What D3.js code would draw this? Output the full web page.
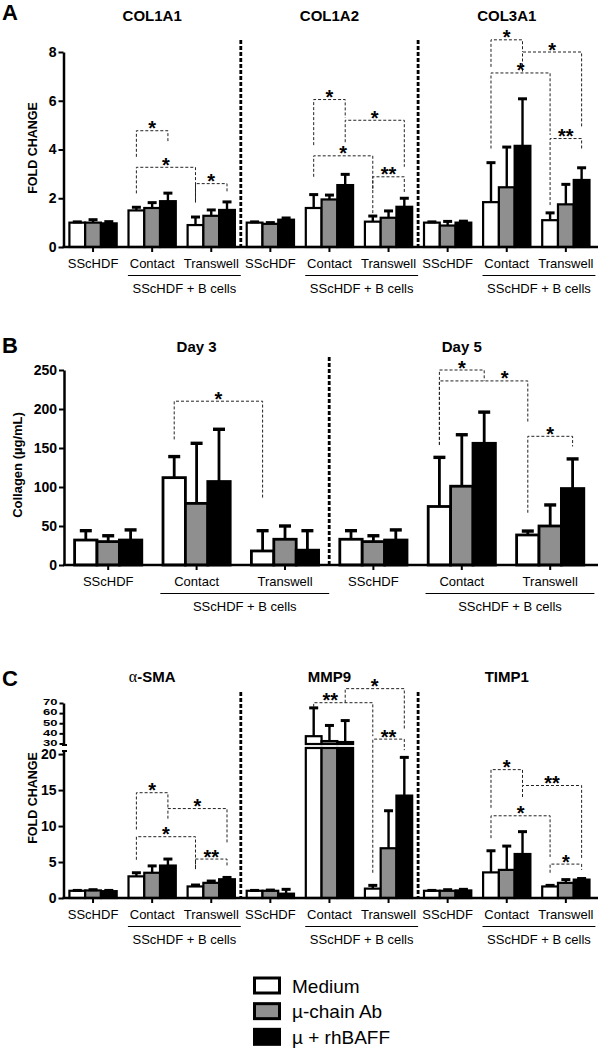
<!DOCTYPE html>
<html><head><meta charset="utf-8">
<script src="https://cdn.jsdelivr.net/npm/d3@7"></script>
<style>
body{margin:0;background:#fff}
svg{display:block}
text{font-family:"Liberation Sans",Arial,Helvetica,sans-serif;fill:#000}
</style>
</head><body>
<svg id="chart" width="600" height="1051"></svg>
<script>
// ================= DATA =================
const seriesNames = ["Medium", "µ-chain Ab", "µ + rhBAFF"];
const categories = ["SScHDF", "Contact", "Transwell"];
const subLabel = "SScHDF + B cells";

// Panel A : fold change (9 groups = 3 genes x 3 conditions)
const geneA = ["COL1A1", "COL1A2", "COL3A1"];
const aMedium    = [1.00, 1.50, 0.90,  1.00, 1.60, 1.04,  1.00, 1.84, 1.10];
const aMediumErr = [0.03, 0.13, 0.33,  0.03, 0.55, 0.23,  0.03, 1.62, 0.30];
const aMu        = [1.00, 1.60, 1.28,  0.95, 1.95, 1.20,  0.88, 2.45, 1.75];
const aMuErr     = [0.12, 0.22, 0.24,  0.05, 0.18, 0.28,  0.17, 1.65, 0.82];
const aBaff      = [0.97, 1.88, 1.52,  1.12, 2.54, 1.65,  1.00, 4.15, 2.75];
const aBaffErr   = [0.07, 0.33, 0.33,  0.07, 0.44, 0.35,  0.06, 1.93, 0.50];
const aTicks = [0, 2, 4, 6, 8];
// brackets: [groupA, seriesA, groupB, seriesB, top, leftLegEnd, rightLegEnd, label, starShift]
const aBrackets = [
  [1,0,1,2, 4.77, 3.70, 4.26, "*", 0],
  [1,0,2,0, 3.27, 2.20, 1.83, "*", 0],
  [2,0,2,2, 2.60, 1.83, 2.27, "*", 0],
  [4,0,4,2, 6.05, 4.18, 5.30, "*", 0],
  [4,2,5,2, 5.20, 4.30, 3.29, "*", 0],
  [4,0,5,0, 3.74, 2.88, 2.30, "*", 0],
  [5,0,5,2, 2.88, 1.39, 2.20, "**", 0],
  [7,0,7,2, 8.50, 7.39, 8.00, "*", 0],
  [7,2,8,2, 8.00, 7.20, 4.93, "*", 0],
  [7,0,8,0, 7.14, 4.04, 4.60, "*", 0],
  [8,0,8,2, 4.45, 1.72, 4.04, "**", 0]
];

// Panel B : collagen (6 groups = 2 days x 3 conditions)
const dayB = ["Day 3", "Day 5"];
const bMedium    = [32, 112, 18,   33, 75, 38.5];
const bMediumErr = [12, 27, 26,    11, 63, 5];
const bMu        = [30, 79, 33,    30, 101, 50];
const bMuErr     = [7.5, 77, 17,   7.5, 66, 27];
const bBaff      = [32, 107, 19,   32, 156, 98];
const bBaffErr   = [13, 67, 25,    13, 40, 38];
const bTicks = [0, 50, 100, 150, 200, 250];
const bBrackets = [
  [1,0,2,0, 210, 161, 85, "*", 0],
  [4,0,4,2, 250, 154, 236, "*", 0],
  [4,0,5,0, 236, 154, 182, "*", 21],
  [5,0,5,2, 165, 67, 152, "*", 0]
];

// Panel C : fold change with broken axis
const geneC = ["α-SMA", "MMP9", "TIMP1"];
const cMedium    = [1.00, 3.00, 1.60,  1.00, 36, 1.30,  1.00, 3.55, 1.60];
const cMediumErr = [0.05, 0.50, 0.20,  0.05, 29, 0.45,  0.05, 3.00, 0.15];
const cMu        = [1.05, 3.50, 2.10,  1.00, 31, 6.90,  1.00, 3.90, 2.10];
const cMuErr     = [0.10, 0.95, 0.25,  0.10, 16, 5.20,  0.15, 3.30, 0.45];
const cBaff      = [0.95, 4.50, 2.60,  0.60, 30, 14.2,  1.05, 6.10, 2.55];
const cBaffErr   = [0.10, 0.90, 0.25,  0.60, 22, 5.30,  0.15, 3.10, 0.15];
const cTicksLow  = [0, 5, 10, 15, 20];
const cTicksHigh = [30, 40, 50, 60, 70];
const cBrackets = [
  [1,0,1,2, 14.6, 9.5, 12.4, "*", 0],
  [1,2,2,2, 12.4, 11.0, 7.6, "*", 0],
  [1,0,2,0, 8.5, 5.3, 4.0, "*", 0],
  [2,0,2,2, 5.4, 4.0, 4.4, "**", 0],
  [4,0,5,0, 70.3, 66, 36, "**", -13],
  [4,2,5,2, 84.7, 70.3, 43, "*", 0],
  [5,0,5,2, 33, 3.5, 20.5, "**", 0],
  [7,0,7,2, 17.8, 12.5, 15.6, "*", 0],
  [7,2,8,2, 15.6, 14.0, 5.5, "**", 0],
  [7,0,8,0, 11.4, 8.3, 5.7, "*", 0],
  [8,0,8,2, 4.7, 3.5, 3.9, "*", 0]
];

// ================= DRAWING =================
const svg = d3.select("#chart");
const fills = ["#ffffff", "#8f8f8f", "#000000"];
const SANS = '"Liberation Sans",Arial,Helvetica,sans-serif';

function zip3(a, b, c) { return a.map((v, i) => [v, b[i], c[i]]); }

function drawPanel(o) {
  const g = svg.append("g");
  const nG = o.means.length;
  const xb = d3.scaleBand().domain(d3.range(nG)).range(o.xRange).padding(0);
  const step = xb.bandwidth();
  const gw = step * o.groupFrac;
  const xs = d3.scaleBand().domain([0, 1, 2]).range([-gw / 2, gw / 2]).padding(0);
  const bw = xs.bandwidth();
  const cx = (gi, si) => xb(gi) + step / 2 + xs(si) + bw / 2;
  const y = o.y;
  const y0 = y(0);

  // bars
  o.means.forEach((row, gi) => {
    row.forEach((v, si) => {
      const x0 = xb(gi) + step / 2 + xs(si);
      if (o.breakLow !== undefined && v > o.breakLow) {
        g.append("rect").attr("x", x0).attr("width", bw)
          .attr("y", o.yLow(o.breakLow)).attr("height", y0 - o.yLow(o.breakLow))
          .attr("fill", fills[si]).attr("stroke", "#000").attr("stroke-width", o.sw);
        g.append("rect").attr("x", x0).attr("width", bw)
          .attr("y", o.yHigh(v)).attr("height", o.yHigh(o.breakHigh) - o.yHigh(v))
          .attr("fill", fills[si]).attr("stroke", "#000").attr("stroke-width", o.sw);
      } else {
        g.append("rect").attr("x", x0).attr("width", bw)
          .attr("y", y(v)).attr("height", y0 - y(v))
          .attr("fill", fills[si]).attr("stroke", "#000").attr("stroke-width", o.sw);
      }
    });
  });
  // error bars
  o.means.forEach((row, gi) => {
    row.forEach((v, si) => {
      const e = o.errs[gi][si];
      const x = cx(gi, si);
      g.append("line").attr("x1", x).attr("x2", x).attr("y1", y(v)).attr("y2", y(v + e))
        .attr("stroke", "#000").attr("stroke-width", o.ew);
      g.append("line").attr("x1", x - o.capW / 2).attr("x2", x + o.capW / 2)
        .attr("y1", y(v + e)).attr("y2", y(v + e))
        .attr("stroke", "#000").attr("stroke-width", o.ew + 0.6);
    });
  });

  // x axis
  g.append("line").attr("x1", o.xRange[0] - 1).attr("x2", 598).attr("y1", y0).attr("y2", y0)
    .attr("stroke", "#000").attr("stroke-width", 2.5);
  const xAxis = d3.axisBottom(xb).tickSize(5).tickPadding(7).tickSizeOuter(0)
    .tickFormat(i => categories[i % 3]);
  const ax = g.append("g").attr("transform", `translate(0,${y0})`).call(xAxis);
  ax.select(".domain").remove();
  ax.selectAll(".tick line").attr("stroke", "#000").attr("stroke-width", 2);
  ax.selectAll(".tick text").style("font-family", SANS).style("font-size", "13px").attr("fill", "#000");

  // sub labels & underline
  for (let k = 0; k < nG / 3; k++) {
    const c1 = xb(3 * k + 1) + step / 2, c2 = xb(3 * k + 2) + step / 2;
    const l = c1 - 0.41 * step, r = c2 + 0.5 * step;
    g.append("line").attr("x1", l).attr("x2", r).attr("y1", y0 + 28.5).attr("y2", y0 + 28.5)
      .attr("stroke", "#000").attr("stroke-width", 1.2);
    g.append("text").attr("x", (l + r) / 2).attr("y", y0 + 41.5).attr("dy", "0.35em")
      .attr("text-anchor", "middle").style("font-size", "13px").text(subLabel);
  }

  // dividers
  for (let k = 1; k < nG / 3; k++) {
    const xd = xb(3 * k);
    g.append("line").attr("x1", xd).attr("x2", xd).attr("y1", o.divTop).attr("y2", y0)
      .attr("stroke", "#000").attr("stroke-width", 2.8).attr("stroke-dasharray", "4,2");
  }

  // titles
  o.titles.forEach((t, k) => {
    const c = xb(3 * k + 1) + step / 2;
    const tx = g.append("text").attr("x", c).attr("y", o.titleY).attr("text-anchor", "middle")
      .style("font-size", "15px").style("font-weight", "bold");
    if (t.startsWith("α")) {
      tx.append("tspan").style("font-family", '"Liberation Serif","Times New Roman",serif')
        .style("font-weight", "normal").style("font-size", "16px").text("α");
      tx.append("tspan").text(t.slice(1));
    } else tx.text(t);
  });

  // brackets
  o.brackets.forEach(b => {
    const [ga, sa, gb, sb, top, lb, rb, lab, shift] = b;
    const xa = cx(ga, sa), xbb = cx(gb, sb);
    g.append("path").attr("d", `M${xa},${y(lb)}V${y(top)}H${xbb}V${y(rb)}`)
      .attr("fill", "none").attr("stroke", "#222").attr("stroke-width", 1)
      .attr("stroke-dasharray", "3,2");
    g.append("text").attr("x", (xa + xbb) / 2 + shift).attr("y", y(top) + 4.5)
      .attr("text-anchor", "middle").style("font-size", "20px").style("font-weight", "bold")
      .text(lab);
  });

  // panel letter
  g.append("text").attr("x", 2).attr("y", o.letterY).style("font-size", "22px")
    .style("font-weight", "bold").text(o.letter);

  // y label
  g.append("text").attr("transform", `translate(${o.ylabX},${o.ylabY}) rotate(-90)`)
    .attr("dy", "0.35em").attr("text-anchor", "middle")
    .style("font-size", o.ylabSize).style("font-weight", "bold").text(o.ylab);
  return g;
}

function styleYAxis(sel) {
  sel.select(".domain").attr("stroke", "#000").attr("stroke-width", 2.5);
  sel.selectAll(".tick line").attr("stroke", "#000").attr("stroke-width", 2);
  sel.selectAll(".tick text").style("font-family", SANS).style("font-size", "14px")
    .style("font-weight", "bold").attr("fill", "#000");
}

// ---- Panel A ----
const yA = d3.scaleLinear().domain([0, 8]).range([247, 52]);
const gA = drawPanel({
  means: zip3(aMedium, aMu, aBaff), errs: zip3(aMediumErr, aMuErr, aBaffErr),
  xRange: [63.5, 595.4], groupFrac: 0.8, y: yA, sw: 2.2, ew: 2.4, capW: 9,
  divTop: 40, titles: geneA, titleY: 21, brackets: aBrackets,
  letter: "A", letterY: 20, ylab: "FOLD CHANGE", ylabX: 33, ylabY: 148, ylabSize: "12.5px"
});
gA.append("g").attr("transform", "translate(63.5,0)")
  .call(d3.axisLeft(yA).tickValues(aTicks).tickSize(5).tickPadding(2).tickSizeOuter(0))
  .call(styleYAxis);

// ---- Panel B ----
const yB = d3.scaleLinear().domain([0, 250]).range([565, 370]);
const gB = drawPanel({
  means: zip3(bMedium, bMu, bBaff), errs: zip3(bMediumErr, bMuErr, bBaffErr),
  xRange: [64, 594.4], groupFrac: 0.76, y: yB, sw: 2.8, ew: 2.8, capW: 12,
  divTop: 357, titles: dayB, titleY: 352, brackets: bBrackets,
  letter: "B", letterY: 353, ylab: "Collagen (µg/mL)", ylabX: 17, ylabY: 465, ylabSize: "13px"
});
gB.append("g").attr("transform", "translate(64,0)")
  .call(d3.axisLeft(yB).tickValues(bTicks).tickSize(5).tickPadding(2).tickSizeOuter(0))
  .call(styleYAxis);

// ---- Panel C (broken axis) ----
const cBreakLow = 20.8, cBreakHigh = 28;
const yCLow = d3.scaleLinear().domain([0, cBreakLow]).range([898, 748]);
const yCHigh = d3.scaleLinear().domain([cBreakHigh, 70]).range([744, 703]);
const yC = v => (v <= cBreakLow ? yCLow(v) : yCHigh(v));
const gC = drawPanel({
  means: zip3(cMedium, cMu, cBaff), errs: zip3(cMediumErr, cMuErr, cBaffErr),
  xRange: [63.5, 595.4], groupFrac: 0.8, y: yC, yLow: yCLow, yHigh: yCHigh,
  breakLow: cBreakLow, breakHigh: cBreakHigh, sw: 2.2, ew: 2.4, capW: 9,
  divTop: 692, titles: geneC, titleY: 682, brackets: cBrackets,
  letter: "C", letterY: 686, ylab: "FOLD CHANGE", ylabX: 33, ylabY: 798, ylabSize: "12.5px"
});
const yCLowAxis = d3.scaleLinear().domain([0, 20.5]).range([898, 750.5]);
gC.append("g").attr("transform", "translate(63.5,0)")
  .call(d3.axisLeft(yCLowAxis).tickValues(cTicksLow).tickSize(5).tickPadding(2).tickSizeOuter(0))
  .call(styleYAxis);
const yCHighAxis = d3.scaleLinear().domain([28.5, 70]).range([745, 703]);
gC.append("g").attr("transform", "translate(63.5,0)")
  .call(d3.axisLeft(yCHighAxis).tickValues(cTicksHigh).tickSize(4).tickPadding(2).tickSizeOuter(0))
  .call(styleYAxis)
  .call(s => s.selectAll(".tick text").style("font-size", "13px")
    .attr("transform", "translate(0,-1) scale(1,0.68)"));
// break stubs
gC.append("line").attr("x1", 62).attr("x2", 67).attr("y1", 745).attr("y2", 745)
  .attr("stroke", "#000").attr("stroke-width", 2);
gC.append("line").attr("x1", 62).attr("x2", 67).attr("y1", 751).attr("y2", 751)
  .attr("stroke", "#000").attr("stroke-width", 2);

// ---- Legend ----
const lg = svg.append("g");
const ly = d3.scaleBand().domain(d3.range(3)).range([974, 1051]).padding(0);
seriesNames.forEach((n, i) => {
  lg.append("rect").attr("x", 254.5).attr("y", ly(i) + 4).attr("width", 25).attr("height", 15)
    .attr("fill", fills[i]).attr("stroke", "#000").attr("stroke-width", 3);
  lg.append("text").attr("x", 292).attr("y", ly(i) + 12).attr("dy", "0.35em")
    .style("font-size", "19px").text(n);
});
</script>
</body></html>
